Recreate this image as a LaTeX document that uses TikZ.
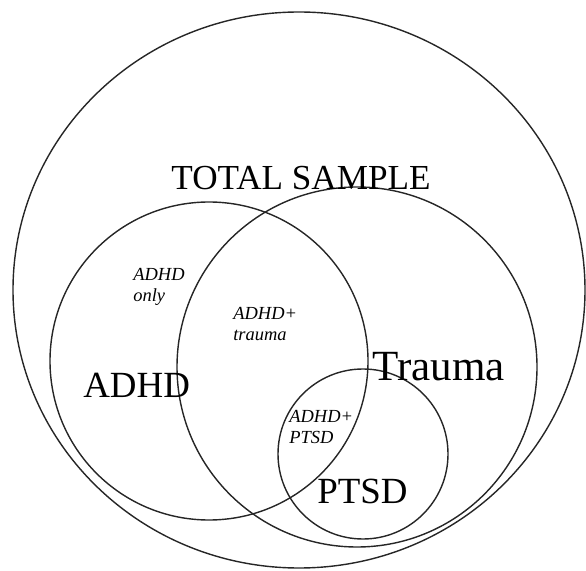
\documentclass[tikz,border=0pt]{standalone}
\usepackage{fontspec}
\setmainfont{Liberation Serif}
\usepackage{tikz}

\tikzset{
	ring/.style={line width=0.8pt, black!85},
	setname/.style={inner sep=0pt, font=\fontsize{21}{25}\selectfont},
	region/.style={inner sep=0pt, align=left, font=\itshape\fontsize{10.5}{12}\selectfont}
}

\begin{document}
\begin{tikzpicture}
	\useasboundingbox (0,0) rectangle (11.72,11.4);
	\draw[ring] (5.98,5.6) ellipse (5.72 and 5.56);
	\draw[ring] (4.18,4.18) circle (3.18);
	\draw[ring] (7.14,4.06) circle (3.6);
	\draw[ring] (7.26,2.32) circle (1.7);
	\node[setname,anchor=base,font=\fontsize{20}{24}\selectfont] (total) at (6.02,7.6) {TOTAL SAMPLE};
	\node[setname,anchor=base west] (adhd) at (1.66,3.44) {ADHD};
	\node[setname,anchor=base west,font=\fontsize{24.5}{28}\selectfont] (trauma) at (7.44,3.78) {Trauma};
	\node[setname,anchor=base west] (ptsd) at (6.34,1.34) {PTSD};
	\node[region,anchor=base west] (adhdonly) at (2.66,5.36) {ADHD\\only};
	\node[region,anchor=base west] (adhdtrauma) at (4.66,4.58) {ADHD+\\trauma};
	\node[region,anchor=base west] (adhdptsd) at (5.78,2.52) {ADHD+\\PTSD};
\end{tikzpicture}
\end{document}
